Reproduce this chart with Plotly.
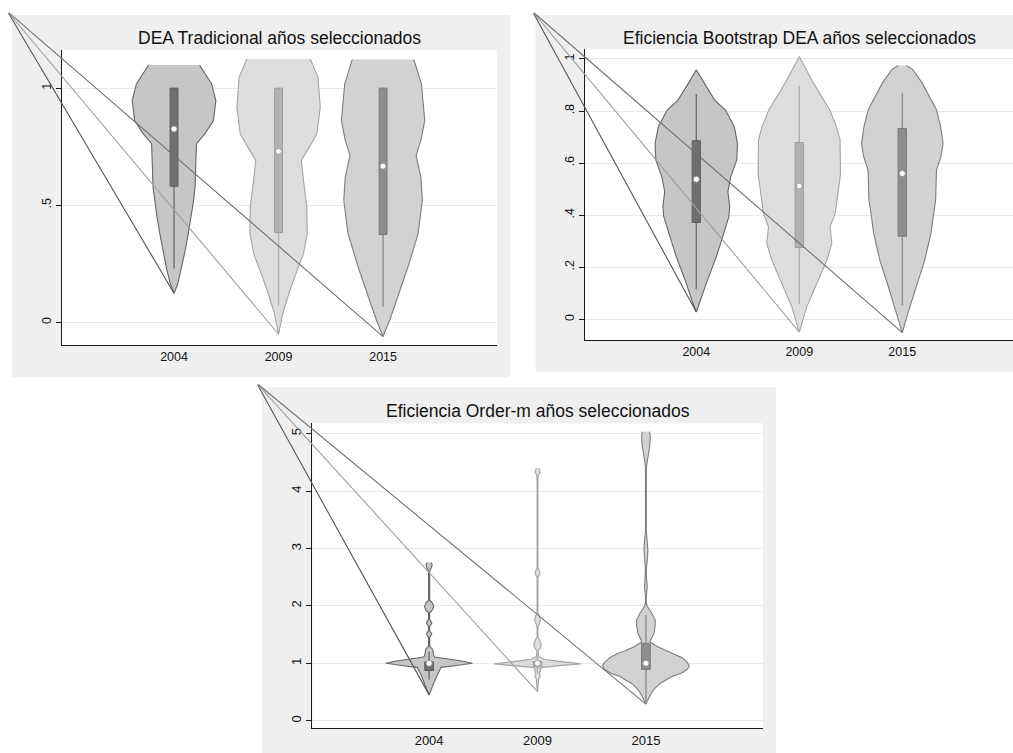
import plotly.graph_objects as go

# ---------------- data ----------------
YEARS = ["2004", "2009", "2015"]
POS = [1, 2, 3]

TITLES = ["DEA Tradicional años seleccionados",
          "Eficiencia Bootstrap DEA años seleccionados",
          "Eficiencia Order-m años seleccionados"]

# y tick values / labels per panel
P1_TICKS = [0, 0.5, 1]
P1_TICKTEXT = ["0", ".5", "1"]
P2_TICKS = [0, 0.2, 0.4, 0.6, 0.8, 1]
P2_TICKTEXT = ["0", ".2", ".4", ".6", ".8", "1"]
P3_TICKS = [0, 1, 2, 3, 4, 5]
P3_TICKTEXT = ["0", "1", "2", "3", "4", "5"]

# violin profiles: value levels (top -> bottom) and half widths (x units)
P1_2004_Y = [1.099, 1.018, 0.947, 0.862, 0.805, 0.763, 0.663, 0.578, 0.521, 0.450, 0.379, 0.308, 0.237, 0.166, 0.124]
P1_2004_W = [0.244, 0.360, 0.400, 0.377, 0.294, 0.215, 0.207, 0.201, 0.187, 0.163, 0.136, 0.107, 0.075, 0.037, 0.0]
P1_2009_Y = [1.125, 1.047, 0.919, 0.805, 0.748, 0.692, 0.592, 0.493, 0.379, 0.294, 0.209, 0.124, 0.039, -0.051]
P1_2009_W = [0.303, 0.377, 0.399, 0.367, 0.295, 0.218, 0.242, 0.271, 0.274, 0.239, 0.167, 0.099, 0.041, 0.0]
P1_2015_Y = [1.122, 1.018, 0.862, 0.777, 0.713, 0.620, 0.520, 0.450, 0.379, 0.237, 0.095, 0.010, -0.061]
P1_2015_W = [0.295, 0.367, 0.399, 0.362, 0.316, 0.362, 0.376, 0.357, 0.335, 0.239, 0.131, 0.064, 0.0]

P2_2004_Y = [0.958, 0.907, 0.842, 0.804, 0.740, 0.676, 0.612, 0.548, 0.490, 0.433, 0.394, 0.330, 0.240, 0.138, 0.074, 0.028]
P2_2004_W = [0.0, 0.076, 0.178, 0.283, 0.369, 0.400, 0.393, 0.335, 0.307, 0.324, 0.316, 0.267, 0.194, 0.097, 0.044, 0.0]
P2_2009_Y = [1.009, 0.907, 0.804, 0.740, 0.689, 0.560, 0.497, 0.407, 0.355, 0.291, 0.227, 0.138, 0.048, -0.049]
P2_2009_W = [0.0, 0.138, 0.296, 0.361, 0.396, 0.400, 0.380, 0.348, 0.299, 0.316, 0.267, 0.170, 0.073, 0.0]
P2_2015_Y = [0.975, 0.960, 0.907, 0.804, 0.740, 0.676, 0.625, 0.573, 0.458, 0.394, 0.330, 0.227, 0.124, 0.022, -0.051]
P2_2015_W = [0.040, 0.100, 0.194, 0.332, 0.372, 0.396, 0.375, 0.332, 0.324, 0.299, 0.278, 0.218, 0.134, 0.053, 0.0]

P3_2004_Y = [2.755, 2.72, 2.67, 2.62, 2.58, 2.10, 2.05, 1.99, 1.93, 1.88, 1.77, 1.70, 1.64, 1.57, 1.51, 1.45,
             1.30, 1.25, 1.20, 1.15, 1.11, 1.08, 1.04, 1.00, 0.97, 0.95, 0.93, 0.88, 0.80, 0.71, 0.60, 0.51, 0.45]
P3_2004_W = [0.018, 0.028, 0.022, 0.008, 0.005, 0.005, 0.030, 0.043, 0.030, 0.005, 0.005, 0.025, 0.005, 0.005, 0.025, 0.005,
             0.005, 0.030, 0.038, 0.040, 0.050, 0.170, 0.300, 0.400, 0.300, 0.200, 0.110, 0.097, 0.074, 0.054, 0.032, 0.015, 0.0]
P3_2009_Y = [4.40, 4.37, 4.32, 4.28, 4.20, 2.66, 2.60, 2.56, 2.50, 1.88, 1.80, 1.75, 1.70, 1.63, 1.46, 1.40, 1.34, 1.28, 1.22,
             1.12, 1.07, 1.03, 0.99, 0.96, 0.93, 0.90, 0.88, 0.84, 0.80, 0.77, 0.72, 0.65, 0.55, 0.505]
P3_2009_W = [0.012, 0.020, 0.025, 0.008, 0.004, 0.004, 0.020, 0.022, 0.004, 0.004, 0.022, 0.025, 0.020, 0.004, 0.004, 0.020, 0.034, 0.030, 0.006,
             0.010, 0.060, 0.220, 0.400, 0.200, 0.050, 0.020, 0.028, 0.018, 0.020, 0.025, 0.010, 0.008, 0.004, 0.0]
P3_2015_Y = [5.035, 4.948, 4.774, 4.658, 4.542, 4.484, 4.42, 3.30, 3.265, 3.12, 2.974, 2.83, 2.684, 2.65, 2.51, 2.334, 2.16,
             2.05, 1.986, 1.871, 1.754, 1.667, 1.523, 1.436, 1.376, 1.289, 1.22, 1.17, 1.10, 1.03, 0.96, 0.90, 0.83, 0.77,
             0.71, 0.65, 0.57, 0.48, 0.38, 0.29]
P3_2015_W = [0.034, 0.040, 0.034, 0.022, 0.012, 0.006, 0.004, 0.004, 0.006, 0.014, 0.018, 0.014, 0.006, 0.004, 0.004, 0.012, 0.004,
             0.004, 0.015, 0.055, 0.086, 0.086, 0.074, 0.052, 0.037, 0.108, 0.190, 0.260, 0.330, 0.375, 0.400, 0.385, 0.330, 0.240,
             0.190, 0.130, 0.085, 0.050, 0.022, 0.0]

# box statistics per panel: [2004, 2009, 2015]
P1_Q1 = [0.581, 0.383, 0.375]
P1_Q3 = [1.0, 1.0, 1.0]
P1_MED = [0.826, 0.730, 0.667]
P1_WLO = [0.230, 0.074, 0.066]
P1_WHI = [1.0, 1.0, 1.0]

P2_Q1 = [0.372, 0.276, 0.319]
P2_Q3 = [0.686, 0.679, 0.733]
P2_MED = [0.538, 0.512, 0.560]
P2_WLO = [0.114, 0.060, 0.054]
P2_WHI = [0.865, 0.896, 0.868]

P3_Q1 = [0.875, 0.940, 0.895]
P3_Q3 = [1.025, 1.030, 1.348]
P3_MED = [1.0, 1.0, 1.0]
P3_WLO = [0.72, 0.82, 0.30]
P3_WHI = [1.20, 1.15, 1.84]

# ---------------- styles ----------------
VIOLIN_FILL = ["#c6c6c6", "#dddddd", "#d2d2d2"]
VIOLIN_LINE = ["#666666", "#a4a4a4", "#7e7e7e"]
BOX_FILL = ["#707070", "#b2b2b2", "#8e8e8e"]
BOX_LINE = ["#5c5c5c", "#9c9c9c", "#777777"]
CORNER_LINE = ["#555555", "#9e9e9e", "#727272"]
FONT = "Liberation Sans, Arial, Helvetica, sans-serif"

W_PX, H_PX = 1013, 753

# pixel geometry per panel: bg rect, plot rect, title pos, corner, ranges, box width
PANELS = [
    dict(bg=(12, 15, 510, 377.3), plot=(62, 50, 497, 345), title=(279.5, 38), corner=(7.5, 11.5),
         xr=[-0.072, 4.09], yr=[-0.097, 1.163], bw=0.075, tfs=17.5, lfs=12.5),
    dict(bg=(535.7, 15, 1013, 371.7), plot=(585.3, 49.3, 1013, 340), title=(799, 38), corner=(532.7, 11.7),
         xr=[-0.0777, 4.075], yr=[-0.0795, 1.037], bw=0.08, tfs=17.5, lfs=12.5),
    dict(bg=(262, 387.3, 776, 753), plot=(312.3, 423.3, 763, 728.3), title=(537.5, 411.5), corner=(256.7, 383.3),
         xr=[-0.0775, 4.08], yr=[-0.132, 5.181], bw=0.08, tfs=17.5, lfs=13),
]
PANEL_TICKS = [(P1_TICKS, P1_TICKTEXT), (P2_TICKS, P2_TICKTEXT), (P3_TICKS, P3_TICKTEXT)]
PANEL_PROFILES = [
    [(P1_2004_Y, P1_2004_W), (P1_2009_Y, P1_2009_W), (P1_2015_Y, P1_2015_W)],
    [(P2_2004_Y, P2_2004_W), (P2_2009_Y, P2_2009_W), (P2_2015_Y, P2_2015_W)],
    [(P3_2004_Y, P3_2004_W), (P3_2009_Y, P3_2009_W), (P3_2015_Y, P3_2015_W)],
]
PANEL_BOX = [
    (P1_Q1, P1_Q3, P1_MED, P1_WLO, P1_WHI),
    (P2_Q1, P2_Q3, P2_MED, P2_WLO, P2_WHI),
    (P3_Q1, P3_Q3, P3_MED, P3_WLO, P3_WHI),
]


def fx(px):
    return px / W_PX


def fy(py):
    return 1 - py / H_PX


fig = go.Figure()
shapes = []
annotations = []
layout_axes = {}

for k, p in enumerate(PANELS):
    sfx = "" if k == 0 else str(k + 1)
    xref, yref = "x" + sfx, "y" + sfx
    l, t, r, b = p["plot"]
    bl, bt, br, bb = p["bg"]
    # backgrounds
    shapes.append(dict(type="rect", xref="paper", yref="paper", x0=fx(bl), x1=fx(br), y0=fy(bb), y1=fy(bt),
                       fillcolor="#efefef", line=dict(width=0), layer="below"))
    shapes.append(dict(type="rect", xref="paper", yref="paper", x0=fx(l), x1=fx(r), y0=fy(b), y1=fy(t),
                       fillcolor="#ffffff", line=dict(width=0), layer="below"))
    tv, tt = PANEL_TICKS[k]
    layout_axes["xaxis" + sfx] = dict(domain=[fx(l), fx(r)], range=p["xr"], anchor=yref, tickvals=POS,
                                      ticktext=YEARS, showgrid=False, zeroline=False, showline=True,
                                      linecolor="#1a1a1a", linewidth=1.3, ticks="", fixedrange=True,
                                      tickfont=dict(family=FONT, size=p["lfs"], color="#111111"))
    layout_axes["yaxis" + sfx] = dict(domain=[fy(b), fy(t)], range=p["yr"], anchor=xref, tickvals=tv,
                                      ticktext=tt, showgrid=True, gridcolor="#e8e8e8", gridwidth=1,
                                      zeroline=False, showline=True, linecolor="#1a1a1a", linewidth=1.3,
                                      ticks="outside", ticklen=5, tickwidth=1, tickcolor="#1a1a1a",
                                      tickangle=-90, fixedrange=True,
                                      tickfont=dict(family=FONT, size=p["lfs"], color="#111111"))
    # title
    annotations.append(dict(text=TITLES[k], xref="paper", yref="paper", x=fx(p["title"][0]), y=fy(p["title"][1]),
                            xanchor="center", yanchor="middle", showarrow=False,
                            font=dict(family=FONT, size=p["tfs"], color="#111111")))

    q1s, q3s, meds, wlos, whis = PANEL_BOX[k]
    for i, (ys, ws) in enumerate(PANEL_PROFILES[k]):
        pos = POS[i]
        xs = [pos + w for w in ws] + [pos - w for w in reversed(ws)]
        yy = list(ys) + list(reversed(ys))
        fig.add_trace(go.Scatter(x=xs, y=yy, mode="lines", fill="toself", fillcolor=VIOLIN_FILL[i],
                                 line=dict(color=VIOLIN_LINE[i], width=1.1), xaxis=xref, yaxis=yref,
                                 hoverinfo="skip", showlegend=False))
    for i in range(3):
        pos = POS[i]
        hw = p["bw"] / 2
        fig.add_trace(go.Scatter(x=[pos, pos], y=[wlos[i], whis[i]], mode="lines",
                                 line=dict(color=BOX_FILL[i], width=1.4), xaxis=xref, yaxis=yref,
                                 hoverinfo="skip", showlegend=False))
        fig.add_trace(go.Scatter(x=[pos - hw, pos + hw, pos + hw, pos - hw, pos - hw],
                                 y=[q1s[i], q1s[i], q3s[i], q3s[i], q1s[i]], mode="lines", fill="toself",
                                 fillcolor=BOX_FILL[i], line=dict(color=BOX_LINE[i], width=1),
                                 xaxis=xref, yaxis=yref, hoverinfo="skip", showlegend=False))
        fig.add_trace(go.Scatter(x=[pos], y=[meds[i]], mode="markers",
                                 marker=dict(symbol="circle", size=6, color="#ffffff",
                                             line=dict(color="#8a8a8a", width=0.8)),
                                 xaxis=xref, yaxis=yref, hoverinfo="skip", showlegend=False))

    # stray outline strokes from the graph corner to each violin tip
    cx = p["xr"][0] + (p["corner"][0] - l) / (r - l) * (p["xr"][1] - p["xr"][0])
    cy = p["yr"][1] - (p["corner"][1] - t) / (b - t) * (p["yr"][1] - p["yr"][0])
    for i, (ys, ws) in enumerate(PANEL_PROFILES[k]):
        annotations.append(dict(x=POS[i], y=ys[-1], xref=xref, yref=yref, ax=cx, ay=cy, axref=xref, ayref=yref,
                                text="", showarrow=True, arrowhead=0, arrowwidth=1.1, arrowcolor=CORNER_LINE[i],
                                standoff=0, startstandoff=0, font=dict(size=1)))

fig.update_layout(width=W_PX, height=H_PX, margin=dict(l=0, r=0, t=0, b=0, pad=0),
                  paper_bgcolor="#ffffff", plot_bgcolor="#ffffff",
                  showlegend=False, shapes=shapes, annotations=annotations, **layout_axes)

fig.write_html("out.html", config={"displayModeBar": False},
               post_script="document.body.style.margin='0';document.body.style.overflow='hidden';")
